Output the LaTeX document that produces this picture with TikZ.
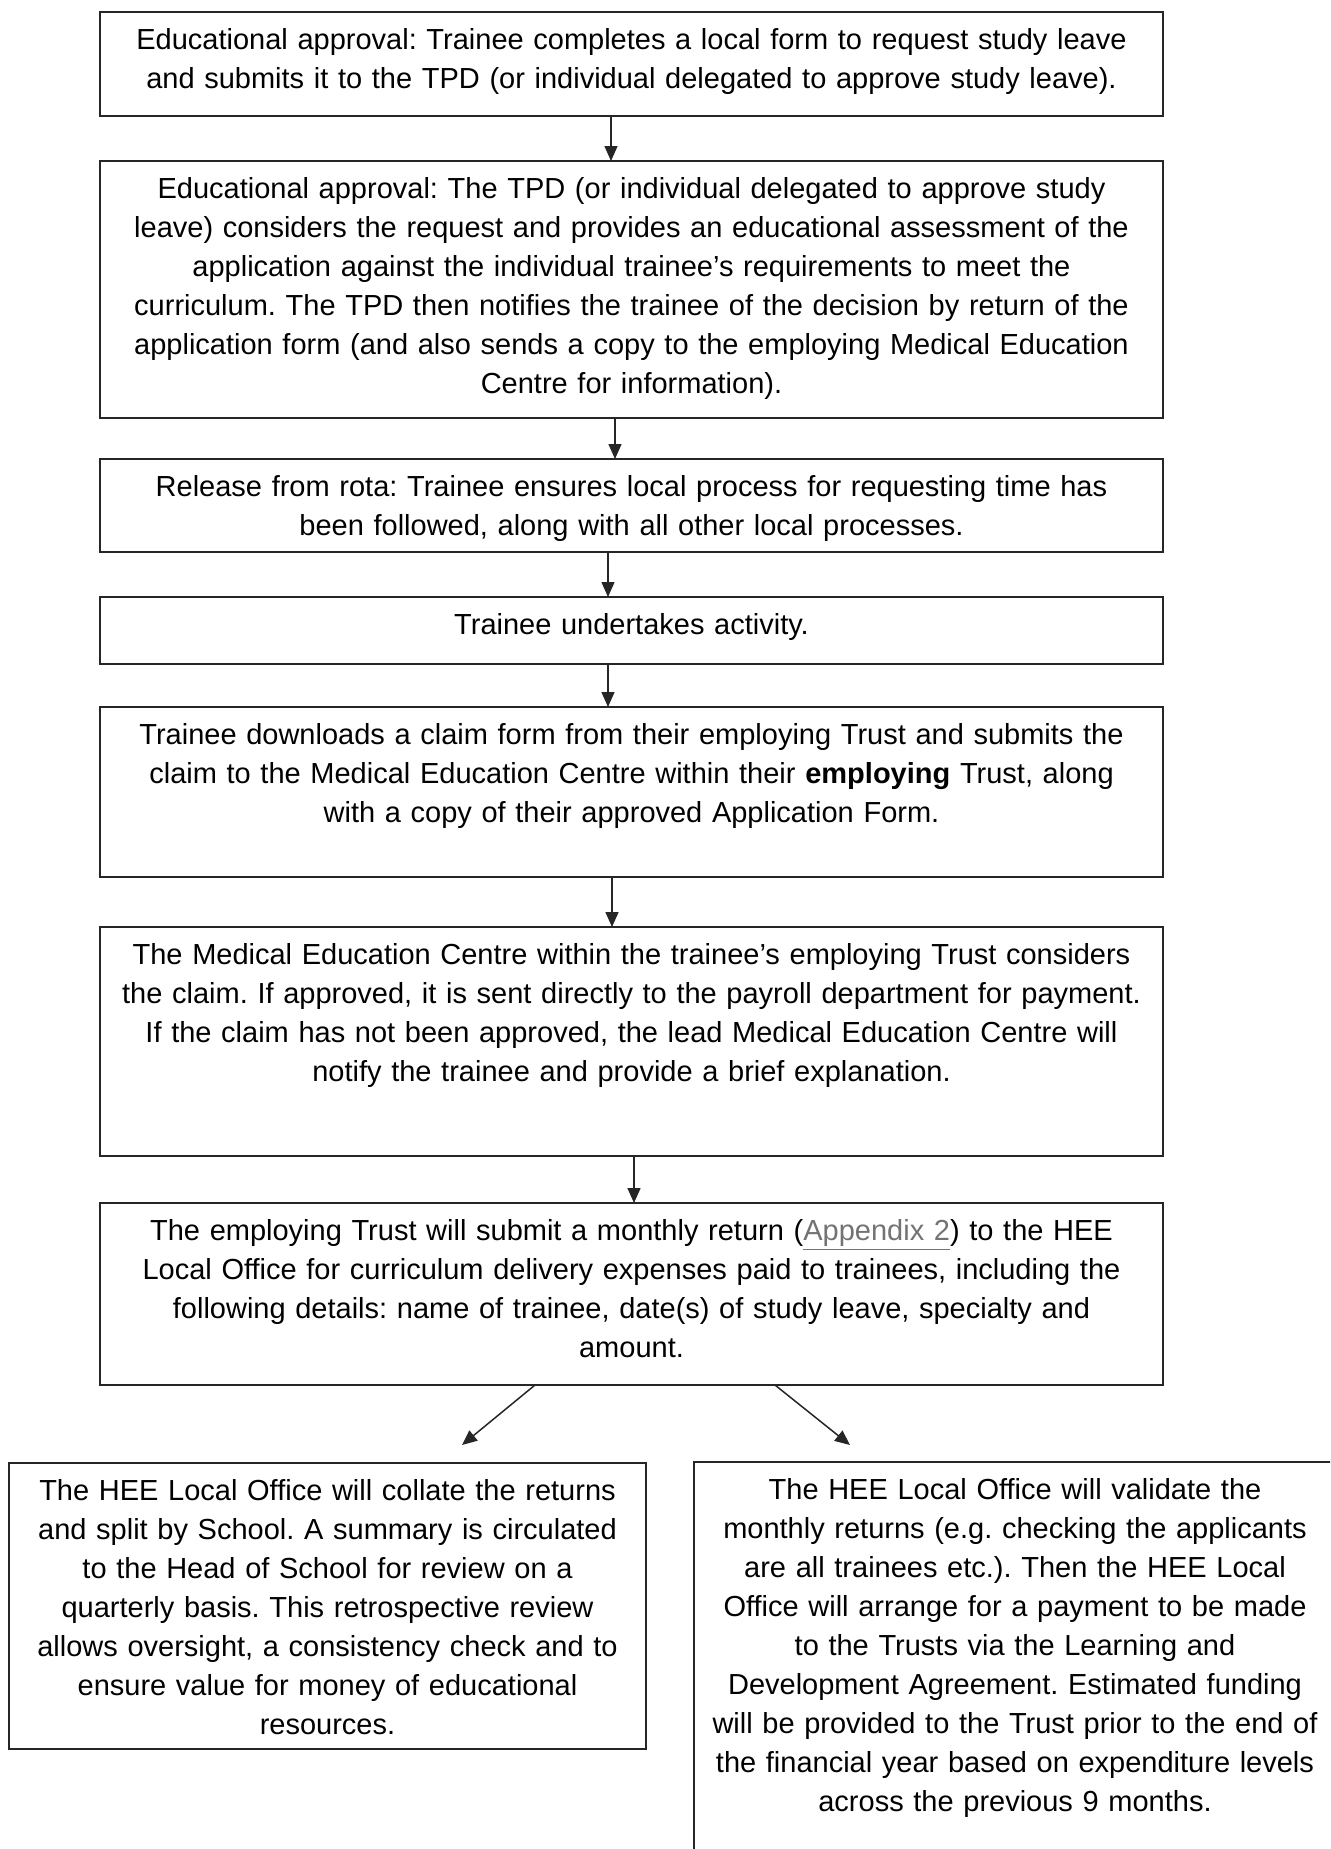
\documentclass[tikz,border=0pt]{standalone}
\usepackage{fontspec}
\setmainfont{Liberation Sans}
\usepackage{xcolor}
\usetikzlibrary{positioning, arrows.meta}
\frenchspacing

\begin{document}
\begin{tikzpicture}[
        x=1pt, y=1pt,
        every node/.style={font=\fontsize{14.5pt}{19.5pt}\selectfont},
        stepbox/.style={draw=black!85, line width=1pt, align=center, outer sep=0pt,
                        text width=525.5pt, inner xsep=3pt, inner ysep=6.75pt,
                        text height=12pt},
        sidebox/.style={stepbox, text width=312.5pt},
        arrow/.style={-{Triangle[length=7.5pt, width=6.5pt]}, line width=0.75pt, black!85}
    ]
    \useasboundingbox (0,0) rectangle (665,-924.5);
    \clip (0,0) rectangle (665,-924.5);

    % --- Steps ---
    \node[stepbox, anchor=north, text depth=26.5pt] (S1) at (315.75,-6)
        {Educational approval: Trainee completes a local form to request study leave\\
         and submits it to the TPD (or individual delegated to approve study leave).};
    \node[stepbox, below=22.5pt of S1, text depth=103pt] (S2)
        {Educational approval: The TPD (or individual delegated to approve study\\
         leave) considers the request and provides an educational assessment of the\\
         application against the individual trainee’s requirements to meet the\\
         curriculum. The TPD then notifies the trainee of the decision by return of the\\
         application form (and also sends a copy to the employing Medical Education\\
         Centre for information).};
    \node[stepbox, below=20.5pt of S2, text depth=21pt] (S3)
        {Release from rota: Trainee ensures local process for requesting time has\\
         been followed, along with all other local processes.};
    \node[stepbox, below=22.5pt of S3, text depth=8pt] (S4)
        {Trainee undertakes activity.};
    \node[stepbox, below=21.5pt of S4, text depth=59.5pt] (S5)
        {Trainee downloads a claim form from their employing Trust and submits the\\
         claim to the Medical Education Centre within their \textbf{employing} Trust, along\\
         with a copy of their approved Application Form.};
    \node[stepbox, below=25pt of S5, text depth=89pt] (S6)
        {The Medical Education Centre within the trainee’s employing Trust considers\\
         the claim. If approved, it is sent directly to the payroll department for payment.\\
         If the claim has not been approved, the lead Medical Education Centre will\\
         notify the trainee and provide a brief explanation.};
    \node[stepbox, below=23.5pt of S6, text depth=65.5pt] (S7)
        {The employing Trust will submit a monthly return (\textcolor{black!55}{\underline{Appendix 2}}) to the HEE\\
         Local Office for curriculum delivery expenses paid to trainees, including the\\
         following details: name of trainee, date(s) of study leave, specialty and\\
         amount.};

    % --- Outcomes ---
    \node[sidebox, anchor=north, text depth=117.5pt] (SL) at (163.75,-731.5)
        {The HEE Local Office will collate the returns\\
         and split by School. A summary is circulated\\
         to the Head of School for review on a\\
         quarterly basis. This retrospective review\\
         allows oversight, a consistency check and to\\
         ensure value for money of educational\\
         resources.};
    \node[sidebox, text width=315pt, anchor=north, text depth=193.5pt] (SR) at (507.5,-731)
        {The HEE Local Office will validate the\\
         monthly returns (e.g. checking the applicants\\
         are all trainees etc.). Then the HEE Local\\
         Office will arrange for a payment to be made\\
         to the Trusts via the Learning and\\
         Development Agreement. Estimated funding\\
         will be provided to the Trust prior to the end of\\
         the financial year based on expenditure levels\\
         across the previous 9 months.};

    % --- Arrows ---
    \draw[arrow] ([xshift=-10.25pt]S1.south) -- ([xshift=-10.25pt]S2.north);
    \draw[arrow] ([xshift=-8.25pt]S2.south) -- ([xshift=-8.25pt]S3.north);
    \draw[arrow] ([xshift=-11.75pt]S3.south) -- ([xshift=-11.75pt]S4.north);
    \draw[arrow] ([xshift=-11.75pt]S4.south) -- ([xshift=-11.75pt]S5.north);
    \draw[arrow] ([xshift=-9.75pt]S5.south) -- ([xshift=-9.75pt]S6.north);
    \draw[arrow] ([xshift=1.25pt]S6.south) -- ([xshift=1.25pt]S7.north);

    % split into the two outcomes
    \coordinate (tipL) at (231,-722.5);
    \coordinate (tipR) at (425,-722.5);
    \draw[arrow] ([xshift=-48.25pt]S7.south) -- (tipL);
    \draw[arrow] ([xshift=71.75pt]S7.south) -- (tipR);
\end{tikzpicture}
\end{document}
